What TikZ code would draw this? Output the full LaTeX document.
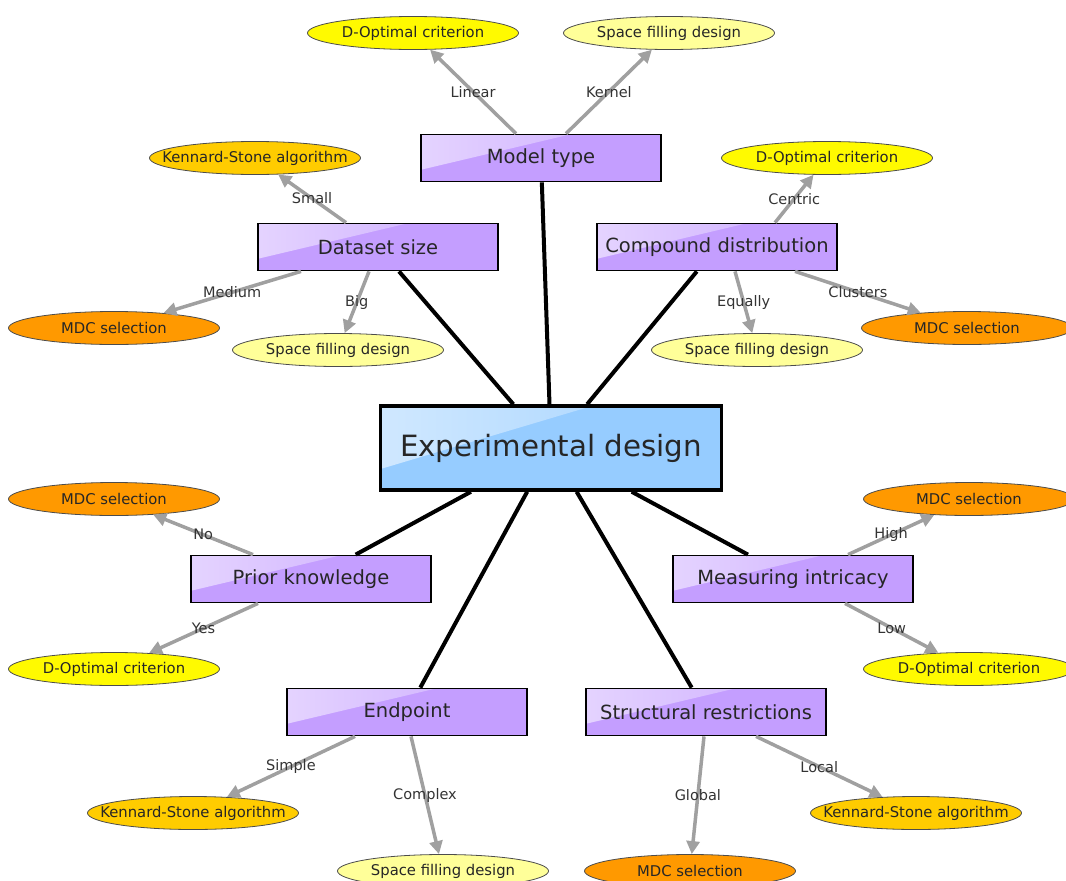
\documentclass[tikz,border=0pt]{standalone}
\usepackage{fontspec}
\setmainfont{DejaVu Sans}
\usetikzlibrary{shapes.geometric,arrows.meta,calc}
\definecolor{boxpurple}{RGB}{196,158,255}
\definecolor{boxblue}{RGB}{150,204,255}
\definecolor{cyellow}{RGB}{255,250,0}
\definecolor{clyellow}{RGB}{255,255,153}
\definecolor{cks}{RGB}{255,204,0}
\definecolor{cmdc}{RGB}{255,153,0}
\definecolor{arrowgray}{RGB}{160,160,160}
\newcommand{\lt}[1]{\makebox[0pt][c]{#1}}
\begin{document}
\begin{tikzpicture}[x=1pt,y=-1pt,
  topic/.style={draw=black, line width=1.8pt, fill=boxpurple, minimum width=240pt, minimum height=47pt, inner sep=0pt, text=black!85, font=\fontsize{19.5}{22}\selectfont,
    path picture={\shade[left color=boxpurple!45!white, right color=boxpurple!88!white]
      (path picture bounding box.north west) -- ($(path picture bounding box.north west)!0.62!(path picture bounding box.north east)$) -- ($(path picture bounding box.north west)!0.75!(path picture bounding box.south west)$) -- cycle;}},
  hub/.style={draw=black, line width=3.5pt, fill=boxblue, minimum width=341pt, minimum height=84pt, inner sep=0pt, text=black!85, font=\fontsize{29.3}{32}\selectfont,
    path picture={\shade[left color=boxblue!45!white, right color=boxblue!88!white]
      (path picture bounding box.north west) -- ($(path picture bounding box.north west)!0.62!(path picture bounding box.north east)$) -- ($(path picture bounding box.north west)!0.75!(path picture bounding box.south west)$) -- cycle;}},
  leaf/.style={ellipse, draw=black!70, line width=0.8pt, minimum width=211pt, minimum height=33pt, inner sep=0pt, text=black!85, font=\fontsize{14.8}{16}\selectfont},
  dopt/.style={leaf, fill=cyellow},
  sfd/.style={leaf, fill=clyellow},
  ks/.style={leaf, fill=cks},
  mdc/.style={leaf, fill=cmdc},
  arr/.style={draw=arrowgray, line width=3.5pt, -{Triangle[length=13pt,width=13pt]}},
  conn/.style={draw=black, line width=4pt},
  lbl/.style={text=black!80, inner sep=1pt, font=\fontsize{14.5}{16}\selectfont}]
\useasboundingbox (0,0) rectangle (1066,881);
\clip (0,0) rectangle (1066,881);

% hub and topics
\node[hub] (ed) at (551,448) {Experimental design};
\node[topic] (mt) at (541,158) {Model type};
\node[topic] (ds) at (378,247) {Dataset size};
\node[topic] (cd) at (717,247) {Compound distribution};
\node[topic] (pk) at (311,579) {Prior knowledge};
\node[topic] (mi) at (793,579) {Measuring intricacy};
\node[topic] (ep) at (407,712) {Endpoint};
\node[topic] (sr) at (706,712) {Structural restrictions};

% leaves
\node[dopt] (mt1) at (413,33) {\lt{D-Optimal criterion}};
\node[sfd]  (mt2) at (669,33) {\lt{Space filling design}};
\node[ks]   (ds1) at (255,158) {\lt{Kennard-Stone algorithm}};
\node[mdc]  (ds2) at (114,328) {\lt{MDC selection}};
\node[sfd]  (ds3) at (338,350) {\lt{Space filling design}};
\node[dopt] (cd1) at (827,158) {\lt{D-Optimal criterion}};
\node[sfd]  (cd2) at (757,350) {\lt{Space filling design}};
\node[mdc]  (cd3) at (967,328) {\lt{MDC selection}};
\node[mdc]  (pk1) at (114,499) {\lt{MDC selection}};
\node[dopt] (pk2) at (114,669) {\lt{D-Optimal criterion}};
\node[mdc]  (mi1) at (969,499) {\lt{MDC selection}};
\node[dopt] (mi2) at (969,669) {\lt{D-Optimal criterion}};
\node[ks]   (ep1) at (193,813) {\lt{Kennard-Stone algorithm}};
\node[sfd]  (ep2) at (443,871) {\lt{Space filling design}};
\node[mdc]  (sr1) at (690,871) {\lt{MDC selection}};
\node[ks]   (sr2) at (916,813) {\lt{Kennard-Stone algorithm}};

% black connectors
\draw[conn] (ed) -- (mt);
\draw[conn] (ed) -- (ds);
\draw[conn] (ed) -- (cd);
\draw[conn] (ed) -- (pk);
\draw[conn] (ed) -- (mi);
\draw[conn] (ed) -- (ep);
\draw[conn] (ed) -- (sr);

% gray arrows
\draw[arr] ([xshift=-25pt]mt.north) -- (mt1) node[lbl, midway] {Linear};
\draw[arr] ([xshift=25pt]mt.north) -- (mt2) node[lbl, midway] {Kernel};
\draw[arr] ([xshift=-32pt]ds.north) -- (ds1) node[lbl, midway] {Small};
\draw[arr] ([xshift=-77pt]ds.south) -- (ds2) node[lbl, midway] {Medium};
\draw[arr] ([xshift=-9pt]ds.south) -- (ds3) node[lbl, midway] {Big};
\draw[arr] ([xshift=58pt]cd.north) -- (cd1) node[lbl, midway] {Centric};
\draw[arr] ([xshift=18pt]cd.south) -- (cd2) node[lbl, midway] {Equally};
\draw[arr] ([xshift=78pt]cd.south) -- (cd3) node[lbl, midway] {Clusters};
\draw[arr] ([xshift=-58pt]pk.north) -- (pk1) node[lbl, midway] {No};
\draw[arr] ([xshift=-53pt]pk.south) -- (pk2) node[lbl, midway] {Yes};
\draw[arr] ([xshift=55pt]mi.north) -- (mi1) node[lbl, midway] {High};
\draw[arr] ([xshift=52pt]mi.south) -- (mi2) node[lbl, midway] {Low};
\draw[arr] ([xshift=-52pt]ep.south) -- (ep1) node[lbl, midway] {Simple};
\draw[arr] ([xshift=4pt]ep.south) -- (ep2) node[lbl, midway] {Complex};
\draw[arr] ([xshift=-2pt]sr.south) -- (sr1) node[lbl, midway] {Global};
\draw[arr] ([xshift=50pt]sr.south) -- (sr2) node[lbl, midway] {Local};
\end{tikzpicture}
\end{document}
